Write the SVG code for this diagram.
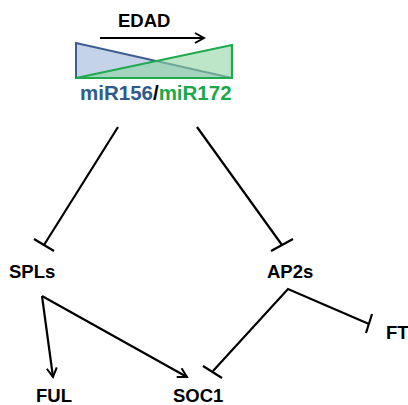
<svg xmlns="http://www.w3.org/2000/svg" width="408" height="405" viewBox="0 0 408 405">
  <defs>
    <style>
      .lbl { font-family: "Liberation Sans", Arial, sans-serif; font-weight: bold; font-size: 18.5px; fill: #000; }
      .edge { stroke: #000; stroke-width: 2.2; fill: none; stroke-linecap: butt; }
      .bar { stroke: #000; stroke-width: 2.2; fill: none; }
    </style>
    <marker id="arr" viewBox="0 0 12 12" refX="10" refY="6" markerWidth="12" markerHeight="12" markerUnits="userSpaceOnUse" orient="auto">
      <path d="M1,1 L10,6 L1,11" fill="none" stroke="#000" stroke-width="2"/>
    </marker>
  </defs>
  <rect width="408" height="405" fill="#fff"/>

  <!-- developmental-age gradient: miR156 falls, miR172 rises -->
  <g id="edad">
    <text x="118" y="27" class="lbl" font-size="18.5">EDAD</text>
    <line x1="100" y1="38" x2="204" y2="38" class="edge" marker-end="url(#arr)"/>
  </g>
  <g id="gradient">
    <polygon points="76,43 76,78 232,78" fill="#c5d3e8" stroke="#3d5f8f" stroke-width="2" stroke-linejoin="miter"/>
    <polygon points="76,78 232,78 232,45" fill="#8fd6a2" fill-opacity="0.6" stroke="#1faa4e" stroke-width="2.2"/>
  </g>
  <g id="mirna">
    <text x="80" y="100" class="lbl" style="font-size:20.5px"><tspan fill="#2e5b8a">miR156</tspan><tspan fill="#000">/</tspan><tspan fill="#1aa84a">miR172</tspan></text>
  </g>

  <g id="SPLs"><text x="9" y="278" class="lbl">SPLs</text></g>
  <g id="AP2s"><text x="267" y="278" class="lbl">AP2s</text></g>
  <g id="FT"><text x="386" y="339" class="lbl">FT</text></g>
  <g id="FUL"><text x="36" y="402" class="lbl">FUL</text></g>
  <g id="SOC1"><text x="173" y="402" class="lbl">SOC1</text></g>

  <g id="connectors">
    <!-- miR156 represses SPLs -->
    <line x1="118" y1="127" x2="44" y2="245" class="edge"/>
    <line x1="34" y1="239" x2="54" y2="251" class="bar"/>
    <!-- miR172 represses AP2s -->
    <line x1="197" y1="127" x2="282" y2="245" class="edge"/>
    <line x1="271" y1="251" x2="293" y2="239" class="bar"/>
    <!-- SPLs activate FUL and SOC1 -->
    <line x1="42" y1="296" x2="53" y2="377" class="edge" marker-end="url(#arr)"/>
    <line x1="42" y1="296" x2="187" y2="377" class="edge" marker-end="url(#arr)"/>
    <!-- AP2s repress SOC1 and FT -->
    <polyline points="213,371 288,289 369,324" class="edge"/>
    <line x1="203" y1="366" x2="222" y2="378" class="bar"/>
    <line x1="372" y1="314" x2="366" y2="333" class="bar"/>
  </g>
</svg>
